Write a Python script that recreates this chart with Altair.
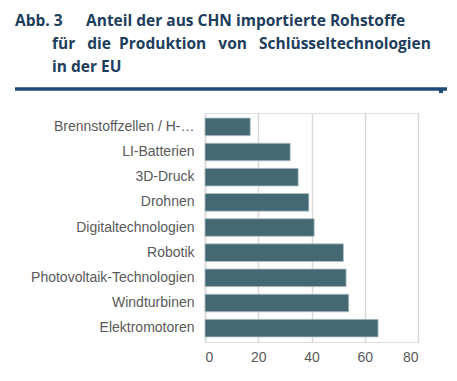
import altair as alt
import pandas as pd

categories = [
    "Brennstoffzellen / H-…",
    "LI-Batterien",
    "3D-Druck",
    "Drohnen",
    "Digitaltechnologien",
    "Robotik",
    "Photovoltaik-Technologien",
    "Windturbinen",
    "Elektromotoren",
]
values = [17, 32, 35, 39, 41, 52, 53, 54, 65]
x_ticks = [0, 20, 40, 60, 80]

title_prefix = "Abb. 3"
title_lines = [
    "Anteil der aus CHN importierte Rohstoffe",
    "für \u00a0\u00a0die \u00a0Produktion \u00a0\u00a0von \u00a0\u00a0Schlüsseltechnologien",
    "in der EU",
]

df = pd.DataFrame({"cat": categories, "val": values})

W, H = 213, 229
PL, PT = 197, 105

bars = alt.Chart(df).mark_bar(
    color="#446973", stroke="#b3c4c8", strokeWidth=0.8
).encode(
    x=alt.X("val:Q", scale=alt.Scale(domain=[0, 80], nice=False),
            axis=alt.Axis(values=x_ticks, title=None, grid=True, gridColor="#d9d9d9",
                          gridWidth=1.5, domain=False, ticks=False, labelPadding=8,
                          labelFont="Liberation Sans", labelFontSize=14,
                          labelColor="#595959")),
    y=alt.Y("cat:N", sort=categories,
            scale=alt.Scale(paddingInner=0.3, paddingOuter=0.2),
            axis=alt.Axis(title=None, ticks=False, domain=True, domainColor="#d9d9d9",
                          domainWidth=1.5, labelPadding=11, labelLimit=220,
                          labelFont="Liberation Sans", labelFontSize=14,
                          labelColor="#595959")),
)

tfont = "Open Sans"
tcolor = "#1d3d5c"
tsize = 15.5

def ttext(txt, x, y):
    return alt.Chart(df.head(1)).mark_text(
        text=txt, align="left", baseline="alphabetic", font=tfont,
        fontSize=tsize, fontWeight="bold", color=tcolor
    ).encode(x=alt.value(x), y=alt.value(y))

t0 = ttext(title_prefix, 15 - 8 - PL, 26 - 8 - PT)
t1 = ttext(title_lines[0], 86 - 8 - PL, 26 - 8 - PT)
t2 = ttext(title_lines[1], 52 - 8 - PL, 49 - 8 - PT)
t3 = ttext(title_lines[2], 52 - 8 - PL, 72 - 8 - PT)

rule = alt.Chart(df.head(1)).mark_rule(color="#1f4a7c", strokeWidth=3.5).encode(
    x=alt.value(15 - 8 - PL), x2=alt.value(447 - 8 - PL), y=alt.value(89 - 8 - PT)
)
tick = alt.Chart(df.head(1)).mark_rule(color="#1f4a7c", strokeWidth=4).encode(
    x=alt.value(439 - 8 - PL), x2=alt.value(443 - 8 - PL), y=alt.value(91 - 8 - PT)
)

chart = alt.layer(bars, rule, tick, t0, t1, t2, t3).properties(
    width=W, height=H,
    autosize=alt.AutoSizeParams(type="none"),
    padding={"left": PL, "top": PT, "right": 30, "bottom": 25},
).configure_view(stroke=None).configure(background="white")

chart.save("out.html", embed_options={"renderer": "svg", "actions": False})
